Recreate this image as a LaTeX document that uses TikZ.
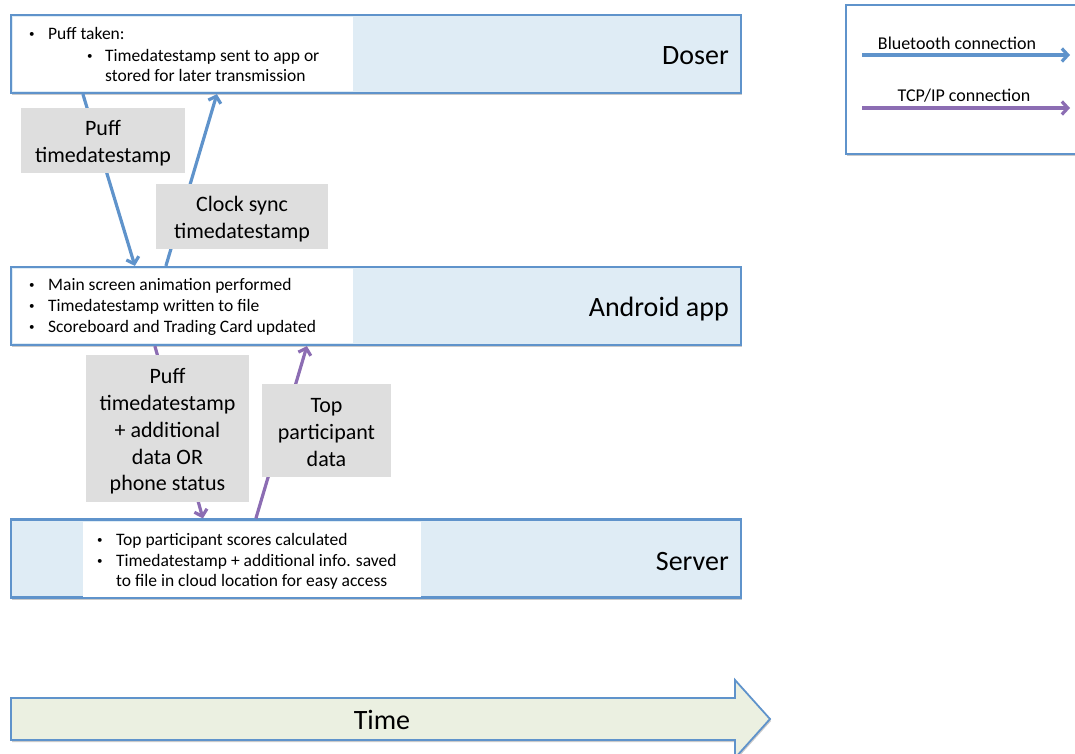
\documentclass[tikz,border=0pt]{standalone}
\usepackage{fontspec}
\setmainfont{Carlito}
\usetikzlibrary{shadows,arrows.meta,calc}
\definecolor{bt}{HTML}{5F93CB}
\definecolor{tcp}{HTML}{8C6DB3}
\definecolor{lanefill}{HTML}{DFECF5}
\definecolor{lblfill}{HTML}{DEDEDE}
\definecolor{timefill}{HTML}{EBF0E1}
\newcommand{\smbul}{\raisebox{2.2pt}{\fontsize{11}{11}\selectfont •}}
\newcommand{\lowtext}[1]{\raisebox{-3.5pt}[\height][\depth]{\begin{tabular}{@{}c@{}}#1\end{tabular}}}
\tikzset{
  lane/.style={draw=bt, line width=2.2pt, fill=lanefill, minimum width=730pt, minimum height=78pt, inner sep=0pt,
    drop shadow={shadow xshift=1pt, shadow yshift=-2pt, opacity=0.35, fill=black!60}},
  inner/.style={fill=white, inner sep=0pt},
  lanename/.style={font=\fontsize{28}{34}\selectfont, anchor=east, inner sep=0pt},
  bul/.style={font=\fontsize{17.5}{21}\selectfont, anchor=base west, inner sep=0pt},
  lbl/.style={fill=lblfill, font=\fontsize{22}{26.7}\selectfont, inner sep=0pt},
  btarrow/.style={draw=bt, line width=3.2pt, -{Straight Barb[length=6pt,width=13pt]}},
  tcparrow/.style={draw=tcp, line width=3.2pt, -{Straight Barb[length=6pt,width=13pt]}},
  legtext/.style={font=\fontsize{18}{22}\selectfont, anchor=base, inner sep=0pt},
}
\begin{document}
\begin{tikzpicture}[x=1pt,y=-1pt]
\useasboundingbox (0,0) rectangle (1075,753);
% lanes
\node[lane] (doser) at (376,54) {};
\node[lane] (android) at (376,306) {};
\node[lane] (server) at (376,558.5) {};
\node[inner, minimum width=340pt, minimum height=74pt] (dw) at (183,54) {};
\node[inner, minimum width=340pt, minimum height=74pt] (aw) at (183,306) {};
\node[inner, minimum width=338pt, minimum height=75pt] (sw) at (252,559.5) {};
\node[lanename] (dname) at (729,56) {Doser};
\node[lanename] (aname) at (729,309) {Android app};
\node[lanename] (sname) at (729,561) {Server};
% doser text
\node[bul] (d1b) at (29,39.5) {\smbul};
\node[bul] (d1) at (48,39.5) {Puff taken:};
\node[bul] (d2b) at (87,61.5) {\smbul};
\node[bul] (d2) at (105,61.5) {Timedatestamp sent to app or};
\node[bul] (d3) at (105,81.5) {stored for later transmission};
% android text
\node[bul] (a1b) at (29,290.5) {\smbul};
\node[bul] (a1) at (48,290.5) {Main screen animation performed};
\node[bul] (a2b) at (29,311.5) {\smbul};
\node[bul] (a2) at (48,311.5) {Timedatestamp written to file};
\node[bul] (a3b) at (29,332.5) {\smbul};
\node[bul] (a3) at (48,332.5) {Scoreboard and Trading Card updated};
% server text
\node[bul] (s1b) at (97,545.5) {\smbul};
\node[bul] (s1) at (116,545.5) {Top participant scores calculated};
\node[bul] (s2b) at (97,566.5) {\smbul};
\node[bul] (s2) at (116,566.5) {Timedatestamp + additional info. saved};
\node[bul] (s3) at (116,586.5) {to file in cloud location for easy access};
% legend
\node[draw=bt, line width=2.2pt, fill=white, minimum width=240pt, minimum height=149pt, inner sep=0pt,
  drop shadow={shadow xshift=1pt, shadow yshift=-2pt, opacity=0.35, fill=black!60}] (legend) at (966,79.5) {};
\node[legtext] (lbt) at (957,49.3) {Bluetooth connection};
\node[legtext] (ltcp) at (964,101.7) {TCP/IP connection};
\coordinate (lb1) at (862,55);
\coordinate (lb2) at (1070,55);
\coordinate (lt1) at (862,108);
\coordinate (lt2) at (1070,108);
\draw[btarrow] (lb1) -- (lb2);
\draw[tcparrow] (lt1) -- (lt2);
% connectors
\draw[btarrow] ([xshift=73pt]doser.south west) -- ([xshift=125pt]android.north west);
\draw[btarrow] ([xshift=156pt]android.north west) -- ([xshift=207pt]doser.south west);
\draw[tcparrow] ([xshift=145pt]android.south west) -- ([xshift=193pt]server.north west);
\draw[tcparrow] ([xshift=246pt]server.north west) -- ([xshift=297pt]android.south west);
% labels
\node[lbl, minimum width=164pt, minimum height=65pt] (l1) at (103,140.5) {\lowtext{Puff\\timedatestamp}};
\node[lbl, minimum width=172pt, minimum height=65pt] (l2) at (242,216.5) {\lowtext{Clock sync\\timedatestamp}};
\node[lbl, minimum width=163pt, minimum height=147pt] (l3) at (167.5,428.5) {\lowtext{Puff\\timedatestamp\\+ additional\\data OR\\phone status}};
\node[lbl, minimum width=129pt, minimum height=93pt] (l4) at (326.5,430.5) {\lowtext{Top\\participant\\data}};
% time arrow
\path[draw=bt, line width=1.8pt, fill=timefill,
  drop shadow={shadow xshift=1pt, shadow yshift=-2pt, opacity=0.35, fill=black!60}]
  (11,698) -- (735,698) -- (735,680) -- (770,719) -- (735,758) -- (735,740) -- (11,740) -- cycle;
\node[font=\fontsize{28}{34}\selectfont, inner sep=0pt] (time) at (382,720) {Time};
\end{tikzpicture}
\end{document}
